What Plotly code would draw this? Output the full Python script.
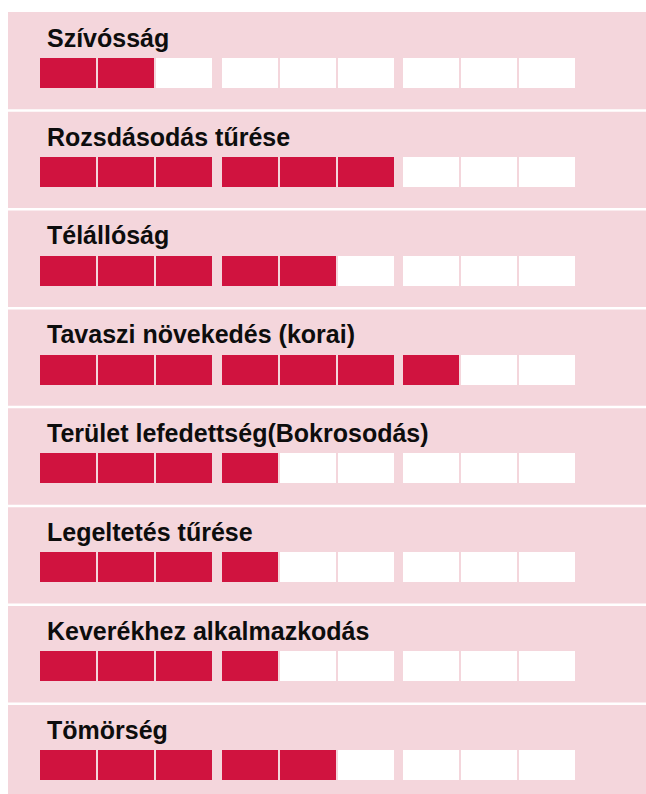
import plotly.graph_objects as go

# ---- data ----
categories = [
    "Szívósság",
    "Rozsdásodás tűrése",
    "Télállóság",
    "Tavaszi növekedés (korai)",
    "Terület lefedettség(Bokrosodás)",
    "Legeltetés tűrése",
    "Keverékhez alkalmazkodás",
    "Tömörség",
]
scores = [2, 6, 5, 7, 4, 4, 4, 5]
max_score = 9

# ---- styling / layout constants ----
W, H = 646, 794
PANEL_X0, PANEL_Y0 = 8, 12
ROW_PITCH = 98.86
CELL_TOP0 = 58
CELL_H = 30
CELL_W = 56
CELL_STEP = 58
GROUP_STEP = 181.5
CELL_X0 = 40
LABEL_X = 45
LABEL_BASE0 = 46.7
FILL = "#d0133f"
EMPTY = "#ffffff"
PINK = "#f4d6dc"

fig = go.Figure()

ys, bases, xs, colors = [], [], [], []
for i, s in enumerate(scores):
    yc = CELL_TOP0 + i * ROW_PITCH + CELL_H / 2
    for k in range(max_score):
        g, j = divmod(k, 3)
        ys.append(yc)
        bases.append(CELL_X0 + g * GROUP_STEP + j * CELL_STEP)
        xs.append(CELL_W)
        colors.append(FILL if k < s else EMPTY)

fig.add_trace(go.Bar(
    orientation="h", y=ys, x=xs, base=bases, width=CELL_H,
    marker=dict(color=colors, line=dict(width=0)),
    hoverinfo="skip", showlegend=False,
))

# labels
for i, c in enumerate(categories):
    fig.add_annotation(
        x=LABEL_X, y=LABEL_BASE0 + i * ROW_PITCH - 9,
        xref="x", yref="y", text=c, showarrow=False,
        xanchor="left", yanchor="middle",
        font=dict(family="Liberation Sans, Arial", size=25, color="#0d0d0d", weight=700),
    )

# separators
for i in range(1, len(categories)):
    yy = 110.5 + (i - 1) * ROW_PITCH
    fig.add_shape(type="line", xref="paper", yref="y", x0=0, x1=1, y0=yy, y1=yy,
                  line=dict(color="white", width=2.5), layer="below")

fig.update_layout(
    width=W, height=H,
    margin=dict(l=0, r=0, t=0, b=0),
    paper_bgcolor="white",
    plot_bgcolor=PINK,
    bargap=0,
    xaxis=dict(domain=[PANEL_X0 / W, 1], range=[PANEL_X0, W], visible=False, fixedrange=True),
    yaxis=dict(domain=[0, 1 - PANEL_Y0 / H], range=[H, PANEL_Y0], visible=False, fixedrange=True),
)

fig.write_html("out.html")
